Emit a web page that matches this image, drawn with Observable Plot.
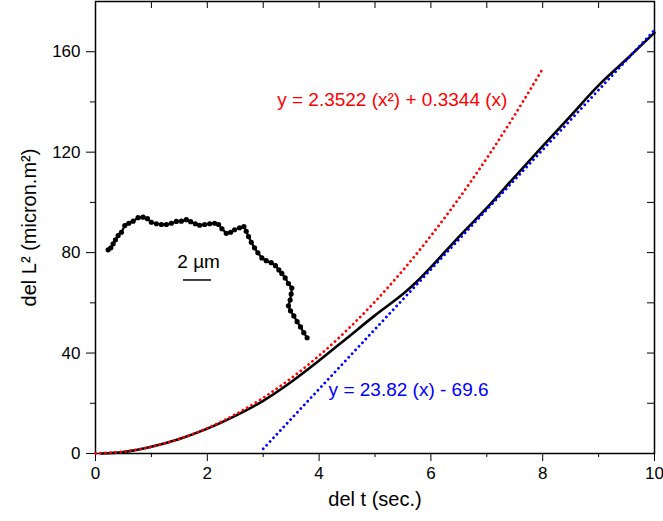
<!DOCTYPE html>
<html>
<head>
<meta charset="utf-8">
<script src="https://cdn.jsdelivr.net/npm/d3@7"></script>
<script src="https://cdn.jsdelivr.net/npm/@observablehq/plot@0.6"></script>
<style>
  html, body { margin: 0; padding: 0; background: #fff; }
</style>
</head>
<body>
<div id="chart"></div>
<script>
// Measured curve (black)
const measT = [0.1, 0.5, 1.0, 1.5, 2.0, 2.5, 3.0, 3.5, 4.0, 4.5, 5.0, 5.5, 5.75, 6.0, 6.5, 7.0, 7.5, 8.0, 8.5, 9.0, 9.5, 10.0];
const measL = [0, 0.6, 2.7, 5.8, 9.9, 15.0, 21.0, 28.5, 37.0, 46.0, 55.0, 63.5, 68.5, 74.2, 86.3, 97.8, 110.2, 122.4, 134.5, 146.6, 157.0, 167.6];

// Quadratic fit (red dotted)
const quadT = [0, 0.5, 1.0, 1.5, 2.0, 2.5, 3.0, 3.5, 4.0, 4.5, 5.0, 5.5, 6.0, 6.5, 7.0, 7.5, 8.0];
const quadL = [0, 0.76, 2.69, 5.79, 10.08, 15.54, 22.17, 29.98, 38.97, 49.14, 60.48, 72.99, 86.69, 101.55, 117.60, 134.82, 153.21];

// Linear fit (blue dotted)
const linT = [3, 4, 5, 6, 7, 8, 9, 10];
const linL = [1.86, 25.68, 49.5, 73.32, 97.14, 120.96, 144.78, 168.6];

// Inset cell outline (drawn in chart units)
const insetX = [0.226, 0.274, 0.316, 0.357, 0.405, 0.464, 0.524, 0.595, 0.673, 0.762, 0.851, 0.929, 1.0, 1.089, 1.179, 1.268, 1.357, 1.446, 1.536, 1.625, 1.702, 1.786, 1.863, 1.952, 2.042, 2.131, 2.202, 2.262, 2.339, 2.417, 2.488, 2.577, 2.655, 2.696, 2.738, 2.786, 2.845, 2.905, 2.976, 3.054, 3.143, 3.220, 3.280, 3.333, 3.393, 3.452, 3.512, 3.5, 3.482, 3.452, 3.488, 3.548, 3.607, 3.667, 3.726, 3.786];
const insetY = [81.1, 81.9, 83.5, 85.1, 86.8, 88.1, 90.8, 91.7, 92.5, 93.9, 94.1, 93.5, 92.1, 91.5, 91.2, 91.2, 91.7, 92.4, 92.5, 93.1, 92.3, 91.5, 90.9, 91.2, 91.5, 91.7, 91.2, 89.5, 87.7, 88.1, 89.1, 89.9, 90.4, 88.5, 86.4, 84.1, 81.9, 79.9, 77.9, 76.8, 76.0, 74.8, 73.1, 71.7, 69.9, 67.7, 65.9, 63.5, 61.1, 58.8, 56.8, 54.8, 52.5, 50.4, 48.1, 46.1];

// Scale bar
const barX = [1.575, 2.075];
const barY = 69.1;
const barLabel = "2 µm";

// Labels
const quadLabel = "y = 2.3522 (x²) + 0.3344 (x)";
const linLabel = "y = 23.82 (x) - 69.6";
const xTitle = "del t (sec.)";
const yTitle = "del L² (micron.m²)";

// Ticks
const xMajor = [0, 2, 4, 6, 8, 10];
const xMinor = [1, 3, 5, 7, 9];
const yMajor = [0, 40, 80, 120, 160];
const yMinor = [20, 60, 100, 140];
const xAll = [1, 2, 3, 4, 5, 6, 7, 8, 9];
const yAll = [20, 40, 60, 80, 100, 120, 140, 160];

const meas = measT.map((t, i) => ({t, L: measL[i]}));
const quad = quadT.map((t, i) => ({t, L: quadL[i]}));
const lin = linT.map((t, i) => ({t, L: linL[i]}));
const inset = insetX.map((x, i) => ({x, y: insetY[i]}));

const font = "'Liberation Sans', Arial, sans-serif";

const chart = Plot.plot({
  width: 663,
  height: 521,
  marginTop: 1,
  marginRight: 9,
  marginBottom: 68,
  marginLeft: 95,
  style: {fontFamily: font, fontSize: "17px", background: "#fff", color: "#000", overflow: "visible"},
  x: {domain: [0, 10]},
  y: {domain: [0, 180]},
  marks: [
    // axes
    Plot.axisX(xMajor, {anchor: "bottom", tickSize: 8, tickPadding: 5, fontSize: 17, label: null}),
    Plot.axisX(xMinor, {anchor: "bottom", tickSize: 4, text: null, label: null}),
    Plot.axisY(yMajor, {anchor: "left", tickSize: 9, tickPadding: 6, fontSize: 17, label: null}),
    Plot.axisY(yMinor, {anchor: "left", tickSize: 5, text: null, label: null}),
    Plot.axisX(xAll, {anchor: "top", tickSize: -6, text: null, label: null}),
    Plot.axisY(yAll, {anchor: "right", tickSize: -8, text: null, label: null}),
    Plot.frame({stroke: "#000", strokeWidth: 1.5}),
    Plot.text([xTitle], {frameAnchor: "bottom", textAnchor: "middle", dy: 52, text: d => d, fontSize: 20}),
    Plot.text([yTitle], {frameAnchor: "left", textAnchor: "middle", dx: -66, rotate: -90, text: d => d, fontSize: 20}),
    // inset
    Plot.line(inset, {x: "x", y: "y", stroke: "#000", strokeWidth: 2.2}),
    Plot.dot(inset, {x: "x", y: "y", r: 2.6, fill: "#000", stroke: "none"}),
    Plot.ruleY([barY], {x1: barX[0], x2: barX[1], stroke: "#000", strokeWidth: 1.5}),
    Plot.text([barLabel], {x: (barX[0] + barX[1]) / 2 + 0.02, y: 76.2, text: d => d, fontSize: 19, textAnchor: "middle"}),
    // curves
    Plot.line(meas, {x: "t", y: "L", stroke: "#000", strokeWidth: 2.6, curve: "catmull-rom"}),
    Plot.line(quad, {x: "t", y: "L", stroke: "#ff0000", strokeWidth: 2.8, strokeDasharray: "0.01,5", strokeLinecap: "round", curve: "catmull-rom"}),
    Plot.line(lin, {x: "t", y: "L", stroke: "#0000ff", strokeWidth: 2.8, strokeDasharray: "0.01,5", strokeLinecap: "round"}),
    // equation labels
    Plot.text([quadLabel], {x: 3.25, y: 141, text: d => d, fill: "#ff0000", fontSize: 19, textAnchor: "start"}),
    Plot.text([linLabel], {x: 4.17, y: 25.5, text: d => d, fill: "#0000ff", fontSize: 19, textAnchor: "start"})
  ]
});
document.getElementById("chart").appendChild(chart);
</script>
</body>
</html>
